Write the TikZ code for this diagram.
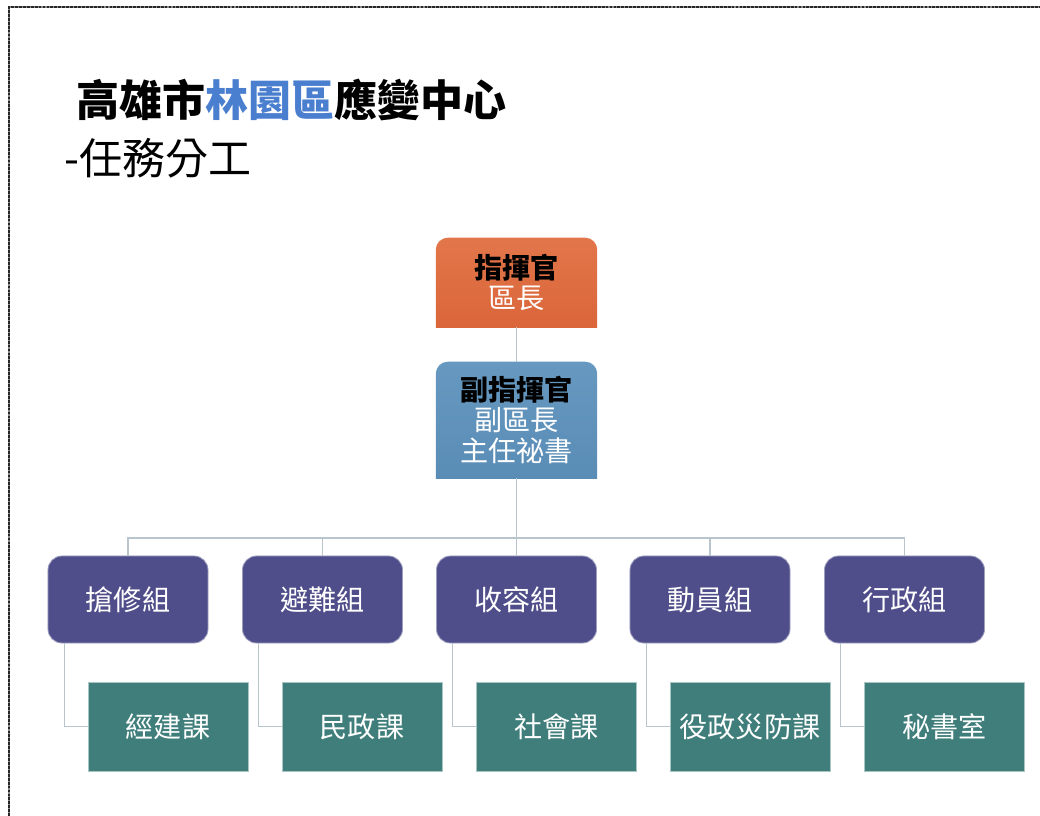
\documentclass[tikz,border=0pt]{standalone}
\usepackage{fontspec}
\setmainfont{Noto Sans CJK TC}
\usetikzlibrary{backgrounds}

\definecolor{cmdorange}{HTML}{DA663A}
\definecolor{cmdorangetop}{HTML}{E2764A}
\definecolor{depblue}{HTML}{5A8DB6}
\definecolor{depbluetop}{HTML}{6698C0}
\definecolor{grppurple}{HTML}{4F4E8A}
\definecolor{secteal}{HTML}{3F7E7B}
\definecolor{linkgray}{HTML}{B9C5CC}
\definecolor{titleblue}{HTML}{4A7ECF}

\tikzset{
  boxtext/.style={align=center, font=\fontsize{20}{22}\selectfont},
  headbox/.style={boxtext, minimum width=4.02cm, inner sep=0pt},
  grpbox/.style={boxtext, text=white, fill=grppurple, draw=grppurple!55!white,
    line width=0.6pt, rounded corners=0.35cm, minimum width=4cm, minimum height=2.175cm},
  secbox/.style={boxtext, text=white, fill=secteal, draw=secteal!45!white,
    line width=0.6pt, minimum width=4cm, minimum height=2.225cm},
  link/.style={draw=linkgray, line width=0.8pt}
}

\begin{document}
\begin{tikzpicture}[x=0.025cm, y=-0.025cm]
                \useasboundingbox (0, 0) rectangle (1040, 816);
                % page frame
                \draw [black!45, line width=1.8pt] (9, 816) -- (9, 7) -- (1040, 7);
                \draw [black!85, line width=1.8pt, dash pattern=on 2pt off 0.8pt] (9, 816) -- (9, 7) -- (1040, 7);
                % title
                \node (title) [anchor=west, inner sep=0pt, font=\fontsize{30.6}{34}\bfseries] at (76, 100)
                    {高雄市\textcolor{titleblue}{林園區}應變中心};
                \node (subtitle) [anchor=west, inner sep=0pt, font=\fontsize{30.6}{34}\selectfont] at (64, 158)
                    {-任務分工};
                % commander boxes
                \node (cmd) [headbox, text=white, minimum height=2.225cm] at (516.5, 282.5)
                    {\textcolor{black}{\bfseries 指揮官}\\區長};
                \node (dep) [headbox, text=white, minimum height=2.9cm] at (516.5, 420)
                    {\textcolor{black}{\bfseries 副指揮官}\\副區長\\主任祕書};
                \begin{pgfonlayer}{background}
                    \begin{scope}
                        \clip [rounded corners=0.3cm] (cmd.north west) rectangle ([yshift=-0.5cm]cmd.south east);
                        \shade [top color=cmdorangetop, bottom color=cmdorange] (cmd.north west) rectangle (cmd.south east);
                    \end{scope}
                    \begin{scope}
                        \clip [rounded corners=0.3cm] (dep.north west) rectangle ([yshift=-0.5cm]dep.south east);
                        \shade [top color=depbluetop, bottom color=depblue] (dep.north west) rectangle (dep.south east);
                    \end{scope}
                \end{pgfonlayer}
                % groups
                \node (g1) [grpbox] at (128, 599.5) {搶修組};
                \node (g2) [grpbox] at (322.5, 599.5) {避難組};
                \node (g3) [grpbox] at (516.5, 599.5) {收容組};
                \node (g4) [grpbox] at (710, 599.5) {動員組};
                \node (g5) [grpbox] at (904.5, 599.5) {行政組};
                % sections
                \node (s1) [secbox] at (168, 726.5) {經建課};
                \node (s2) [secbox] at (362, 726.5) {民政課};
                \node (s3) [secbox] at (556.5, 726.5) {社會課};
                \node (s4) [secbox] at (750, 726.5) {役政災防課};
                \node (s5) [secbox] at (944.5, 726.5) {秘書室};
                % connectors
                \coordinate (bar) at (516.5, 538);
                \draw [link] (cmd.south) -- (dep.north);
                \draw [link] (dep.south) -- (bar);
                \draw [link] (g1.north) |- (bar);
                \draw [link] (g2.north) |- (bar);
                \draw [link] (g3.north) -- (bar);
                \draw [link] (g4.north) |- (bar);
                \draw [link] (g5.north) |- (bar);
                \draw [link] ([xshift=0.42cm]g1.south west) |- (s1.west);
                \draw [link] ([xshift=0.42cm]g2.south west) |- (s2.west);
                \draw [link] ([xshift=0.42cm]g3.south west) |- (s3.west);
                \draw [link] ([xshift=0.42cm]g4.south west) |- (s4.west);
                \draw [link] ([xshift=0.42cm]g5.south west) |- (s5.west);
\end{tikzpicture}
\end{document}
